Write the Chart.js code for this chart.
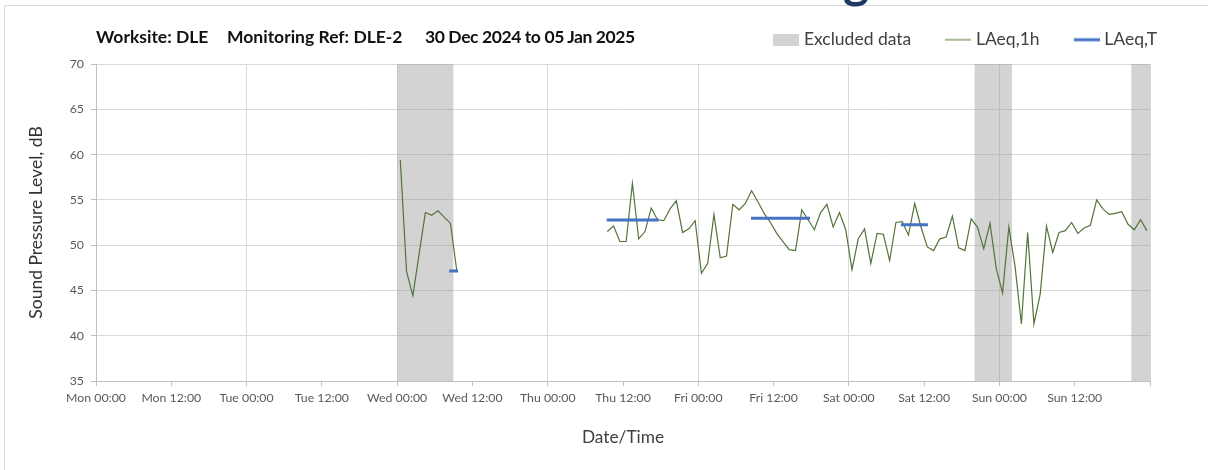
<!DOCTYPE html>
<html><head><meta charset="utf-8">
<script src="https://cdn.jsdelivr.net/npm/chart.js@4.4.1/dist/chart.umd.min.js"></script>
<style>
html,body{margin:0;padding:0;background:#fff;}
#wrap{position:relative;width:1208px;height:470px;overflow:hidden;}
#frame{position:absolute;left:4px;top:5px;right:0;bottom:0;border-left:1px solid #d9d9d9;border-top:1px solid #d9d9d9;}
#frag{position:absolute;left:843px;top:-46px;font:bold 50px Lato,sans-serif;color:#1f3864;line-height:50px;}
.tt{position:absolute;top:27px;font:bold 17.5px Lato,sans-serif;color:#111;white-space:nowrap;line-height:20px;}
canvas{position:absolute;left:0;top:0;}
</style></head>
<body><div id="wrap"><div id="frame"></div><div id="frag">g</div>
<canvas id="c" width="1208" height="470"></canvas>
<div class="tt" style="left:96px">Worksite: DLE</div>
<div class="tt" style="left:227px">Monitoring Ref: DLE-2</div>
<div class="tt" style="left:425px;letter-spacing:-0.4px">30 Dec 2024 to 05 Jan 2025</div>
</div>
<script>
const tickLabels = ['Mon 00:00','Mon 12:00','Tue 00:00','Tue 12:00','Wed 00:00','Wed 12:00','Thu 00:00','Thu 12:00','Fri 00:00','Fri 12:00','Sat 00:00','Sat 12:00','Sun 00:00','Sun 12:00',''];
const yMin = 35, yMax = 70, yStep = 5;
const excludedStart = [48, 140, 165];
const excludedEnd = [57, 146, 168];
const hourlyWedStart = 48.5;
const hourlyWed = [59.4, 47.1, 44.4, 49.0, 53.6, 53.3, 53.8, 53.1, 52.4, 47.2];
const hourlyThuStart = 81.5;
const hourlyThuSun = [51.5,52.1,50.4,50.4,56.8,50.7,51.5,54.1,52.8,52.7,54.0,54.9,51.4,51.8,52.7,46.9,48.0,53.4,48.6,48.8,
  54.5,53.9,54.6,56.0,54.8,53.5,52.5,51.3,50.4,49.5,49.4,53.9,52.8,51.7,53.6,54.5,52.0,53.6,51.7,47.3,
  50.7,51.8,48.0,51.3,51.2,48.3,52.5,52.6,51.1,54.6,52.0,49.8,49.4,50.7,50.9,53.2,49.7,49.4,52.9,52.0,
  49.6,52.4,47.4,44.7,52.0,47.6,41.3,51.4,41.3,44.6,52.1,49.2,51.4,51.6,52.5,51.3,51.9,52.2,55.0,54.0,
  53.4,53.5,53.7,52.3,51.7,52.8,51.6];
const periodStart = [56.3, 81.4, 104.4, 128.3];
const periodEnd = [57.7, 89.7, 113.8, 132.6];
const periodLAeqT = [47.15, 52.78, 52.97, 52.26];

const hourlyPoints = [];
hourlyWed.forEach((v, i) => hourlyPoints.push({x: hourlyWedStart + i, y: v}));
hourlyPoints.push({x: hourlyWedStart + hourlyWed.length, y: null});
hourlyThuSun.forEach((v, i) => hourlyPoints.push({x: hourlyThuStart + i, y: v}));

const periodPoints = [];
periodStart.forEach((s, i) => {
  periodPoints.push({x: s, y: periodLAeqT[i]});
  periodPoints.push({x: periodEnd[i], y: periodLAeqT[i]});
  periodPoints.push({x: periodEnd[i], y: null});
});

const excludedPoints = [];
excludedStart.forEach((s, i) => {
  excludedPoints.push({x: s, y: yMax});
  excludedPoints.push({x: excludedEnd[i], y: yMax});
  excludedPoints.push({x: excludedEnd[i], y: null});
});

const excludedColor = 'rgba(150,150,150,0.42)';
const laeq1hColor = '#53733a';
const laeqTColor = '#4472c4';

function swatch(kind, color, lw) {
  const c = document.createElement('canvas');
  c.width = 26; c.height = 12;
  const g = c.getContext('2d');
  if (kind === 'rect') { g.fillStyle = '#d3d3d3'; g.fillRect(0, 0, 26, 12); }
  else { g.strokeStyle = color; g.lineWidth = lw; g.beginPath(); g.moveTo(0, 6); g.lineTo(26, 6); g.stroke(); }
  return c;
}
const swEx = swatch('rect');
const sw1h = swatch('line', '#6f8f55', 1.2);
const swT = swatch('line', laeqTColor, 3);

const legendFix = {
  id: 'legendFix',
  beforeLayout(chart) {
    const lg = chart.legend;
    if (lg && !lg._patched) {
      const orig = lg.fit.bind(lg);
      lg.fit = function() { orig(); this.height = 64; };
      lg._patched = true;
    }
  },
  afterLayout(chart) {
    const lg = chart.legend;
    if (lg) { lg.top -= 7; lg.bottom -= 7; }
  }
};

const tickFont = {family: 'Lato', size: 12.3};
const tickColor = '#595959';

new Chart(document.getElementById('c'), {
  type: 'line',
  data: {
    datasets: [
      {label: 'LAeq,T', data: periodPoints, borderColor: laeqTColor, borderWidth: 3, pointRadius: 0, fill: false, spanGaps: false},
      {label: 'LAeq,1h', data: hourlyPoints, borderColor: laeq1hColor, borderWidth: 1.2, pointRadius: 0, fill: false, spanGaps: false},
      {label: 'Excluded data', data: excludedPoints, borderColor: 'rgba(0,0,0,0)', borderWidth: 0, backgroundColor: excludedColor, pointRadius: 0, fill: 'start', spanGaps: false}
    ]
  },
  plugins: [legendFix],
  options: {
    responsive: false, animation: false, devicePixelRatio: 1,
    layout: {padding: {left: 0, right: 13, top: 0, bottom: 0}},
    plugins: {
      tooltip: {enabled: false},
      legend: {
        display: true, position: 'top', align: 'end',
        labels: {
          usePointStyle: true, pointStyleWidth: 18, boxHeight: 12, padding: 38,
          font: {family: 'Lato', size: 17.5}, color: '#404040',
          generateLabels: () => [
            {text: 'Excluded data', pointStyle: swEx, fillStyle: '#d3d3d3', strokeStyle: 'rgba(0,0,0,0)', lineWidth: 0, hidden: false, datasetIndex: 2, fontColor: '#404040'},
            {text: 'LAeq,1h', pointStyle: sw1h, fillStyle: laeq1hColor, strokeStyle: laeq1hColor, lineWidth: 1, hidden: false, datasetIndex: 1, fontColor: '#404040'},
            {text: 'LAeq,T', pointStyle: swT, fillStyle: laeqTColor, strokeStyle: laeqTColor, lineWidth: 3, hidden: false, datasetIndex: 0, fontColor: '#404040'}
          ]
        }
      }
    },
    scales: {
      x: {
        type: 'linear', min: 0, max: 168,
        ticks: {stepSize: 12, autoSkip: false, maxRotation: 0, minRotation: 0, padding: 5, font: tickFont, color: tickColor,
          callback: (v, i) => tickLabels[i] ?? ''},
        grid: {color: c => (c.tick && c.tick.value % 24 === 0) ? '#d9d9d9' : 'rgba(0,0,0,0)', tickColor: '#bfbfbf', tickLength: 5, drawTicks: true, lineWidth: 1},
        border: {color: '#bfbfbf', width: 1},
        title: {display: true, text: 'Date/Time', font: {family: 'Lato', size: 17.3}, color: '#404040', padding: {top: 0, bottom: 22}},
        afterFit: s => { s.height = 89; }
      },
      y: {
        min: yMin, max: yMax,
        ticks: {stepSize: yStep, padding: 7, font: tickFont, color: tickColor},
        grid: {color: '#d9d9d9', tickColor: '#bfbfbf', tickLength: 5, drawTicks: true},
        border: {color: '#bfbfbf', width: 1},
        title: {display: true, text: 'Sound Pressure Level, dB', font: {family: 'Lato', size: 17.5}, color: '#333', padding: {top: 26, bottom: 0}},
        afterFit: s => { s.width = 96; }
      },
      yR: {
        position: 'right', display: true,
        ticks: {display: false}, grid: {display: false, drawTicks: false}, border: {display: false},
        afterFit: s => { s.width = 45; }
      }
    }
  }
});
</script>
</body></html>
